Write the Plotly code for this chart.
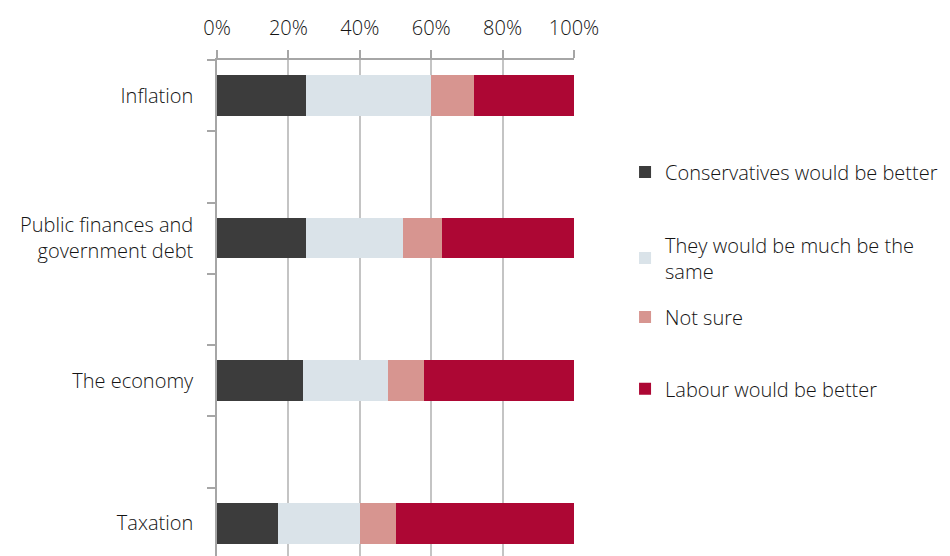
import plotly.graph_objects as go

categories = ["Inflation", "Public finances and<br>government debt", "The economy", "Taxation"]
series_names = ["Conservatives would be better", "They would be much be the<br>same", "Not sure", "Labour would be better"]
conservatives = [25, 25, 24, 17]
same = [35, 27, 24, 23]
not_sure = [12, 11, 10, 10]
labour = [28, 37, 42, 50]
x_ticks = [0, 20, 40, 60, 80, 100]

colors = ["#3c3c3c", "#dae3e9", "#d79590", "#ad0734"]
values = [conservatives, same, not_sure, labour]

ypos = [i * 2 for i in range(len(categories))]
FONT = "Open Sans"
WEIGHT = 300
TXT = "#141414"
FS = 20

fig = go.Figure()
legend_ids = ["legend", "legend2", "legend3", "legend4"]
for name, vals, col, lg in zip(series_names, values, colors, legend_ids):
    fig.add_trace(go.Bar(
        y=ypos, x=[v / 100 for v in vals], name=name, orientation="h",
        marker=dict(color=col, line=dict(width=0)), width=0.57, legend=lg,
    ))

leg_x = 1.143
leg_y = [0.774, 0.601, 0.482, 0.337]
legend_common = dict(font=dict(family=FONT, size=FS, color=TXT, weight=WEIGHT), bgcolor="rgba(0,0,0,0)",
                     xanchor="left", yanchor="middle", itemclick=False)
layout_legends = {}
for lg, yy in zip(legend_ids, leg_y):
    layout_legends[lg] = dict(x=leg_x, y=yy, **legend_common)

fig.update_layout(
    width=950, height=556,
    margin=dict(l=217, r=376, t=60, b=0),
    paper_bgcolor="white", plot_bgcolor="white",
    barmode="stack", bargap=0,
    font=dict(family=FONT, size=FS, color=TXT, weight=WEIGHT),
    showlegend=True,
    **layout_legends,
)
fig.update_xaxes(
    side="top", range=[0, 1.0], tickvals=[t / 100 for t in x_ticks], tickformat=".0%",
    ticks="outside", ticklen=8, tickwidth=1.5, tickcolor="#a6a6a6",
    showgrid=True, gridcolor="#c4c4c4", gridwidth=1.5,
    showline=True, linecolor="#a6a6a6", linewidth=1.5, zeroline=False,
    ticklabelstandoff=7,
    tickfont=dict(family=FONT, size=FS, color=TXT, weight=WEIGHT),
)
fig.update_yaxes(
    range=[6.46, -0.5], tickmode="array", tickvals=ypos, ticktext=categories,
    ticks="", showgrid=False, zeroline=False,
    showline=True, linecolor="#a6a6a6", linewidth=1.5,
    ticklabelstandoff=18,
    minor=dict(tickmode="array", tickvals=[-0.5 + i for i in range(8)], ticks="outside",
               ticklen=8, tickwidth=1.5, tickcolor="#a6a6a6", showgrid=False),
    tickfont=dict(family=FONT, size=FS, color=TXT, weight=WEIGHT),
)

fig.write_html("out.html")
